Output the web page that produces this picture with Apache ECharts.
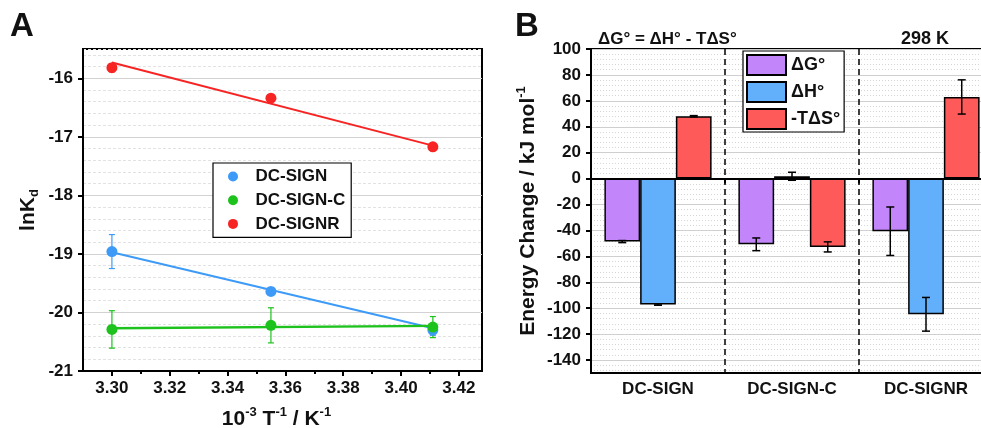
<!DOCTYPE html>
<html>
<head>
<meta charset="utf-8">
<script src="https://cdn.jsdelivr.net/npm/echarts@6/dist/echarts.min.js"></script>
<style>html,body{margin:0;padding:0;background:#fff}#c{width:981px;height:428px}</style>
</head>
<body>
<div id="c"></div>
<script>
// ---------- Panel A data ----------
const xInvT = [3.300, 3.355, 3.411];
const lnKdSIGN = [-18.96, -19.64, -20.30];
const errSIGN = [0.29, 0.04, 0.09];
const lnKdSIGNC = [-20.29, -20.22, -20.25];
const errSIGNC = [0.32, 0.30, 0.18];
const lnKdSIGNR = [-15.82, -16.34, -17.17];
const errSIGNR = [0.07, 0.04, 0.04];
const fitX = [3.300, 3.411];
const fitSIGN = [-18.97, -20.27];
const fitSIGNC = [-20.27, -20.23];
const fitSIGNR = [-15.73, -17.15];
const xTicksA = [3.30, 3.32, 3.34, 3.36, 3.38, 3.40, 3.42];
const xMinorTicksA = [3.31, 3.33, 3.35, 3.37, 3.39, 3.41];
const yTicksA = [-21, -20, -19, -18, -17, -16];

// ---------- Panel B data ----------
const categories = ['DC-SIGN', 'DC-SIGN-C', 'DC-SIGNR'];
const dG = [-48.6, -50.7, -40.6];
const dGErr = [0.8, 4.9, 18.7];
const dH = [-97.2, 1.8, -104.7];
const dHErr = [0.5, 3.1, 13.0];
const mTdS = [48.1, -52.7, 63.0];
const mTdSErr = [0.5, 3.9, 13.2];
const yTicksB = [-140, -120, -100, -80, -60, -40, -20, 0, 20, 40, 60, 80, 100];
const yMinorTicksB = [];
for (let v = -148; v <= 96; v += 4) { if (v % 20 !== 0) yMinorTicksB.push(v); }

const F = 'Liberation Sans, Arial, sans-serif';
const cBlue = '#3d9bf7', cGreen = '#1dc21d', cRed = '#f72424';
const cPurple = '#c285fa', cBarBlue = '#62b0fb', cBarRed = '#ff5a5a';

const chart = echarts.init(document.getElementById('c'), null, {renderer: 'canvas'});

function zip(xs, ys, es) { return xs.map((x, i) => es ? [x, ys[i], es[i]] : [x, ys[i]]); }

function errA(ys, es, color) {
  return {
    type: 'custom', xAxisIndex: 0, yAxisIndex: 0, z: 4, silent: true,
    encode: {x: 0, y: 1},
    data: zip(xInvT, ys, es),
    renderItem(params, api) {
      const x = api.value(0), y = api.value(1), e = api.value(2);
      const p1 = api.coord([x, y + e]), p2 = api.coord([x, y - e]);
      const cap = 3, st = {stroke: color, lineWidth: 1.2};
      return {type: 'group', children: [
        {type: 'line', shape: {x1: p1[0], y1: p1[1], x2: p2[0], y2: p2[1]}, style: st},
        {type: 'line', shape: {x1: p1[0] - cap, y1: p1[1], x2: p1[0] + cap, y2: p1[1]}, style: st},
        {type: 'line', shape: {x1: p2[0] - cap, y1: p2[1], x2: p2[0] + cap, y2: p2[1]}, style: st}
      ]};
    }
  };
}

function errB(vals, errs, idx) {
  return {
    type: 'custom', xAxisIndex: 2, yAxisIndex: 2, z: 6, silent: true,
    encode: {x: 0, y: 1},
    data: vals.map((v, i) => [i, v, errs[i]]),
    renderItem(params, api) {
      const ci = api.value(0), v = api.value(1), e = api.value(2);
      const band = api.size([1, 0])[0];
      const bw = band * 0.8 / 3;
      const c = api.coord([ci, v]);
      const x = c[0] + (idx - 1) * bw;
      const yT = api.coord([ci, v + e])[1], yB = api.coord([ci, v - e])[1];
      const cap = 4, st = {stroke: '#000', lineWidth: 1.5};
      return {type: 'group', children: [
        {type: 'line', shape: {x1: x, y1: yT, x2: x, y2: yB}, style: st},
        {type: 'line', shape: {x1: x - cap, y1: yT, x2: x + cap, y2: yT}, style: st},
        {type: 'line', shape: {x1: x - cap, y1: yB, x2: x + cap, y2: yB}, style: st}
      ]};
    }
  };
}

const labelStyle = {fontFamily: F, fontWeight: 'bold', fontSize: 17, color: '#111'};
const axisLine = {show: true, lineStyle: {color: '#000', width: 2}};
const tick = {show: true, inside: false, length: 5, lineStyle: {color: '#000', width: 2}};

const option = {
  animation: false,
  backgroundColor: '#fff',
  grid: [
    {left: 83, top: 49, width: 399, height: 322, show: true, borderColor: '#000', borderWidth: 2, backgroundColor: '#fff', containLabel: false, outerBoundsMode: 'none'},
    {left: 591, top: 49, width: 402, height: 324, show: true, borderColor: '#000', borderWidth: 2, backgroundColor: '#fff', containLabel: false, outerBoundsMode: 'none'}
  ],
  xAxis: [
    { // 0: panel A main
      type: 'value', gridIndex: 0, position: 'bottom', min: 3.29, max: 3.428, z: 3,
      axisLine: axisLine,
      axisTick: Object.assign({}, tick, {customValues: xTicksA}),
      axisLabel: Object.assign({}, labelStyle, {customValues: xTicksA, margin: 9, formatter: v => v.toFixed(2)}),
      splitLine: {show: false},
      name: '{a|10}{s|-3}{a| T}{s|-1}{a| / K}{s|-1}',
      nameLocation: 'middle', nameGap: 35,
      nameTextStyle: {padding: [0, 12, 0, 0], rich: {
        a: {fontFamily: F, fontWeight: 'bold', fontSize: 21, color: '#111', lineHeight: 26, verticalAlign: 'middle'},
        s: {fontFamily: F, fontWeight: 'bold', fontSize: 13, color: '#111', lineHeight: 14, verticalAlign: 'top'}
      }}
    },
    { // 1: panel A minor ticks
      type: 'value', gridIndex: 0, position: 'bottom', min: 3.29, max: 3.428, z: 3,
      axisLine: {show: false},
      axisTick: {show: true, length: 3, lineStyle: {color: '#000', width: 2}, customValues: xMinorTicksA},
      axisLabel: {show: false},
      splitLine: {show: false}
    },
    { // 2: panel B categories
      type: 'category', gridIndex: 1, position: 'bottom', data: categories, boundaryGap: true, z: 3,
      axisLine: axisLine,
      axisTick: {show: true, length: 5, alignWithLabel: false, lineStyle: {color: '#000', width: 2}},
      axisLabel: Object.assign({}, labelStyle, {margin: 8}),
      splitLine: {show: true, lineStyle: {color: '#000', width: 1.5, type: [6, 4]}}
    }
  ],
  yAxis: [
    { // 0: panel A main
      type: 'value', gridIndex: 0, position: 'left', min: -21, max: -15.5, interval: 1, z: 2,
      axisLine: axisLine,
      axisTick: Object.assign({}, tick, {customValues: yTicksA}),
      axisLabel: Object.assign({}, labelStyle, {customValues: yTicksA, margin: 10}),
      splitLine: {show: true, lineStyle: {color: '#d2d2d2', width: 1}},
      name: '{a|lnK}{d|d}', nameLocation: 'middle', nameGap: 42, nameRotate: 90,
      nameTextStyle: {rich: {
        a: {fontFamily: F, fontWeight: 'bold', fontSize: 21, color: '#111', lineHeight: 26, verticalAlign: 'middle'},
        d: {fontFamily: F, fontWeight: 'bold', fontSize: 13, color: '#111', lineHeight: 14, verticalAlign: 'bottom'}
      }}
    },
    { // 1: panel A minor grid
      type: 'value', gridIndex: 0, position: 'left', min: -21, max: -15.5, interval: 0.2, z: 1,
      axisLine: {show: false}, axisTick: {show: false}, axisLabel: {show: false},
      splitLine: {show: true, lineStyle: {color: '#e2e2e2', width: 1, type: [3, 2]}}
    },
    { // 2: panel B main
      type: 'value', gridIndex: 1, position: 'left', min: -150, max: 100, z: 2,
      axisLine: axisLine,
      axisTick: Object.assign({}, tick, {customValues: yTicksB}),
      axisLabel: Object.assign({}, labelStyle, {customValues: yTicksB, margin: 10}),
      splitLine: {show: true, lineStyle: {color: '#cfcfcf', width: 1}},
      name: '{a|Energy Change / kJ mol}{s|-1}', nameLocation: 'middle', nameGap: 50, nameRotate: 90,
      nameTextStyle: {rich: {
        a: {fontFamily: F, fontWeight: 'bold', fontSize: 21, color: '#111', lineHeight: 26, verticalAlign: 'middle'},
        s: {fontFamily: F, fontWeight: 'bold', fontSize: 13, color: '#111', lineHeight: 14, verticalAlign: 'top'}
      }}
    },
    { // 3: panel B minor grid
      type: 'value', gridIndex: 1, position: 'left', min: -150, max: 100, z: 1,
      axisLine: {show: false}, axisLabel: {show: false},
      axisTick: {show: false, customValues: yMinorTicksB},
      splitLine: {show: true, lineStyle: {color: '#d6d6d6', width: 1, type: [1, 2]}}
    }
  ],
  legend: [
    {
      data: ['DC-SIGN', 'DC-SIGN-C', 'DC-SIGNR'],
      left: 213, top: 163, orient: 'vertical', icon: 'circle',
      itemWidth: 35, itemHeight: 10, itemGap: 6.7,
      padding: [5, 6, 5, 15],
      borderColor: '#000', borderWidth: 1.2, backgroundColor: '#fff',
      textStyle: {fontFamily: F, fontWeight: 'bold', fontSize: 17, color: '#111'}
    },
    {
      data: ['ΔG°', 'ΔH°', '-TΔS°'],
      left: 743, top: 51, orient: 'vertical', icon: 'rect',
      itemWidth: 39, itemHeight: 20, itemGap: 5,
      padding: [3, 4, 2, 3],
      borderColor: '#000', borderWidth: 1.2, backgroundColor: '#fff',
      textStyle: {fontFamily: F, fontWeight: 'bold', fontSize: 18, color: '#111'}
    }
  ],
  graphic: [
    {type: 'text', x: 10, y: 27, style: {text: 'A', font: 'bold 33px ' + F, fill: '#111', verticalAlign: 'middle'}},
    {type: 'text', x: 515, y: 27, style: {text: 'B', font: 'bold 33px ' + F, fill: '#111', verticalAlign: 'middle'}},
    {type: 'text', x: 598, y: 39, style: {text: 'ΔG° = ΔH° - TΔS°', font: 'bold 17px ' + F, fill: '#111', verticalAlign: 'middle'}},
    {type: 'text', x: 901, y: 39, style: {text: '298 K', font: 'bold 18px ' + F, fill: '#111', verticalAlign: 'middle'}}
  ],
  series: [
    // Panel A fit lines
    {type: 'line', xAxisIndex: 0, yAxisIndex: 0, data: zip(fitX, fitSIGN), showSymbol: false, lineStyle: {color: cBlue, width: 2}, z: 3, silent: true},
    {type: 'line', xAxisIndex: 0, yAxisIndex: 0, data: zip(fitX, fitSIGNC), showSymbol: false, lineStyle: {color: cGreen, width: 2.4}, z: 3, silent: true},
    {type: 'line', xAxisIndex: 0, yAxisIndex: 0, data: zip(fitX, fitSIGNR), showSymbol: false, lineStyle: {color: cRed, width: 2}, z: 3, silent: true},
    // Panel A error bars
    errA(lnKdSIGN, errSIGN, cBlue),
    errA(lnKdSIGNC, errSIGNC, cGreen),
    errA(lnKdSIGNR, errSIGNR, cRed),
    // Panel A points
    {name: 'DC-SIGN', type: 'scatter', xAxisIndex: 0, yAxisIndex: 0, data: zip(xInvT, lnKdSIGN), symbolSize: 11, itemStyle: {color: cBlue, opacity: 1}, z: 5},
    {name: 'DC-SIGN-C', type: 'scatter', xAxisIndex: 0, yAxisIndex: 0, data: zip(xInvT, lnKdSIGNC), symbolSize: 11, itemStyle: {color: cGreen, opacity: 1}, z: 5},
    {name: 'DC-SIGNR', type: 'scatter', xAxisIndex: 0, yAxisIndex: 0, data: zip(xInvT, lnKdSIGNR), symbolSize: 11, itemStyle: {color: cRed, opacity: 1}, z: 5},
    // Panel B bars
    {name: 'ΔG°', type: 'bar', xAxisIndex: 2, yAxisIndex: 2, data: dG, barGap: '0%', barCategoryGap: '20%',
      itemStyle: {color: cPurple, borderColor: '#000', borderWidth: 1.5}, z: 4,
      markLine: {silent: true, symbol: ['none', 'none'], label: {show: false}, lineStyle: {color: '#000', width: 2, type: 'solid'}, data: [{yAxis: 0}]}},
    {name: 'ΔH°', type: 'bar', xAxisIndex: 2, yAxisIndex: 2, data: dH, barGap: '0%', barCategoryGap: '20%',
      itemStyle: {color: cBarBlue, borderColor: '#000', borderWidth: 1.5}, z: 4},
    {name: '-TΔS°', type: 'bar', xAxisIndex: 2, yAxisIndex: 2, data: mTdS, barGap: '0%', barCategoryGap: '20%',
      itemStyle: {color: cBarRed, borderColor: '#000', borderWidth: 1.5}, z: 4},
    errB(dG, dGErr, 0),
    errB(dH, dHErr, 1),
    errB(mTdS, mTdSErr, 2)
  ]
};
chart.setOption(option);
</script>
</body>
</html>
